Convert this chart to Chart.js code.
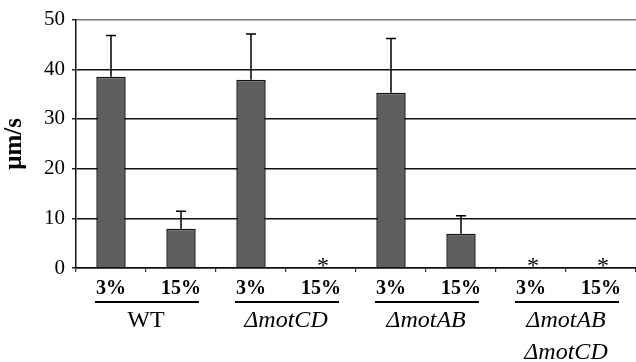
<!DOCTYPE html>
<html>
<head>
<meta charset="utf-8">
<script src="https://cdn.jsdelivr.net/npm/chart.js@4"></script>
<style>
  html, body { margin: 0; padding: 0; background: #fff; }
  #wrap { width: 636px; height: 362px; }
</style>
</head>
<body>
<div id="wrap"><canvas id="speed-chart" width="636" height="362"></canvas></div>
<script>
// swimming speed per strain and agar concentration
const categories = ['3%', '15%', '3%', '15%', '3%', '15%', '3%', '15%'];
const speeds     = [38.5, 7.9, 37.9, 0, 35.3, 6.9, 0, 0];
const errorTops  = [46.8, 11.4, 47.1, null, 46.2, 10.5, null, null];
const noMotion   = [false, false, false, true, false, false, true, true];  // asterisks
const groups     = [['WT'], ['\u0394motCD'], ['\u0394motAB'], ['\u0394motAB', '\u0394motCD']];
const yTicks     = [0, 10, 20, 30, 40, 50];

const SERIF = '"Liberation Serif", "Times New Roman", serif';

// error bars, asterisks, group underlines and names
const extrasPlugin = {
  id: 'extras',
  afterDatasetsDraw(chart) {
    const ctx = chart.ctx;
    const x = chart.scales.x, y = chart.scales.y;
    ctx.save();
    ctx.strokeStyle = '#000';
    ctx.fillStyle = '#000';

    // error bars (upper only)
    ctx.lineWidth = 1.5;
    errorTops.forEach((e, i) => {
      if (e == null) return;
      const cx = x.getPixelForValue(i);
      const y0 = y.getPixelForValue(speeds[i]);
      const y1 = y.getPixelForValue(e);
      ctx.beginPath();
      ctx.moveTo(cx, y0);
      ctx.lineTo(cx, y1);
      ctx.moveTo(cx - 5, y1);
      ctx.lineTo(cx + 5, y1);
      ctx.stroke();
    });

    // asterisks for no motility, sitting on the axis
    ctx.font = '24px ' + SERIF;
    ctx.textAlign = 'center';
    ctx.textBaseline = 'alphabetic';
    const m = ctx.measureText('*');
    const base = y.getPixelForValue(0) - 1 - m.actualBoundingBoxDescent;
    noMotion.forEach((flag, i) => {
      if (!flag) return;
      ctx.fillText('*', x.getPixelForValue(i) + 2, base);
    });

    // group underline + label
    const lineY = y.getPixelForValue(0) + 34;
    groups.forEach((names, g) => {
      const a = x.getPixelForValue(g * 2);
      const b = x.getPixelForValue(g * 2 + 1);
      ctx.lineWidth = 2.2;
      ctx.beginPath();
      ctx.moveTo(a - 16, lineY);
      ctx.lineTo(b + 18, lineY);
      ctx.stroke();
      const mid = (a + b) / 2;
      names.forEach((n, k) => {
        ctx.font = (n === 'WT' ? '' : 'italic ') + '24px ' + SERIF;
        ctx.textBaseline = 'middle';
        ctx.fillText(n, mid, lineY + 19 + k * 32);
      });
    });
    ctx.restore();
  }
};

new Chart(document.getElementById('speed-chart'), {
  type: 'bar',
  data: {
    labels: categories,
    datasets: [{
      data: speeds,
      backgroundColor: '#5e5e5e',
      borderColor: '#111',
      borderWidth: 1.5,
      barPercentage: 0.42,
      categoryPercentage: 1
    }]
  },
  options: {
    responsive: false,
    animation: false,
    layout: { padding: { top: 18, right: 0, left: 0, bottom: 0 } },
    plugins: {
      legend: { display: false },
      tooltip: { enabled: false }
    },
    scales: {
      x: {
        afterFit: s => { s.height = 94; },
        border: { color: '#111', width: 1.5 },
        grid: {
          offset: true,
          drawOnChartArea: false,
          drawTicks: true,
          tickLength: 4,
          tickColor: '#333',
          lineWidth: 1.2
        },
        ticks: {
          color: '#000',
          padding: 5,
          maxRotation: 0,
          autoSkip: false,
          font: { family: SERIF, size: 20, weight: 'bold' }
        }
      },
      y: {
        min: 0,
        max: 50,
        afterFit: s => { s.width = 76; },
        afterBuildTicks: s => {
          const t = [];
          for (let v = 0; v <= 50; v += 5) t.push({ value: v });
          s.ticks = t;
        },
        border: { color: '#111', width: 1.5 },
        grid: {
          color: c => {
            const v = c.tick ? c.tick.value : 0;
            if (v === 50) return '#777';
            return v % 10 === 0 ? '#111' : 'rgba(0,0,0,0)';
          },
          lineWidth: 1.5,
          tickColor: '#222',
          tickLength: 4,
          drawTicks: true
        },
        ticks: {
          color: '#000',
          padding: 7,
          font: { family: SERIF, size: 21 },
          callback: v => yTicks.includes(v) ? String(v) : ''
        },
        title: {
          display: true,
          text: '\u03bcm/s',
          color: '#000',
          padding: { top: 0, bottom: 4 },
          font: { family: SERIF, size: 25, weight: 'bold' }
        }
      }
    }
  },
  plugins: [extrasPlugin]
});
</script>
</body>
</html>
